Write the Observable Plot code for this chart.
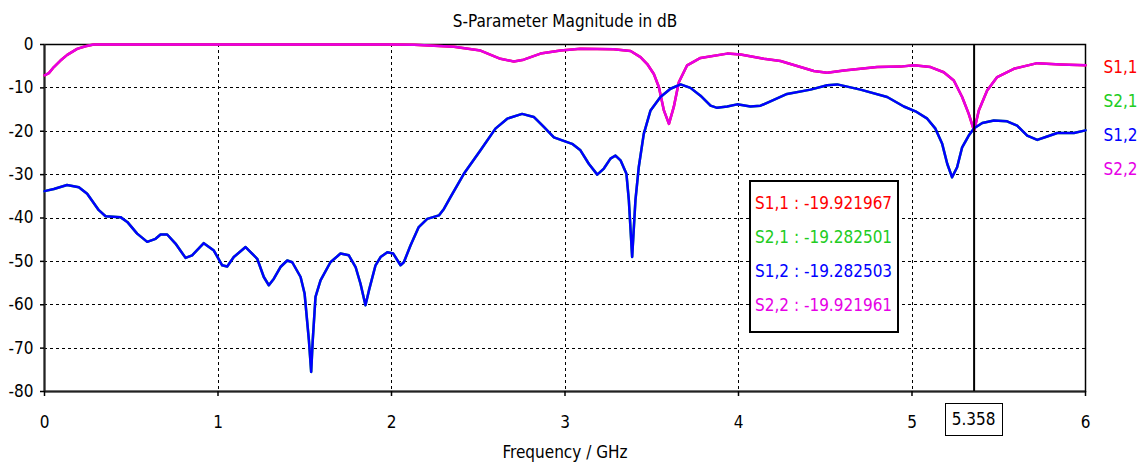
<!DOCTYPE html>
<html>
<head>
<meta charset="utf-8">
<script src="https://cdn.jsdelivr.net/npm/d3@7"></script>
<script src="https://cdn.jsdelivr.net/npm/@observablehq/plot@0.6"></script>
<style>
  html, body { margin: 0; padding: 0; background: #fff; }
  #wrap { position: relative; width: 1143px; height: 465px; overflow: hidden; font-family: "DejaVu Sans Condensed", "DejaVu Sans", sans-serif; }
  #readout { position: absolute; background: #fff; border: 2.5px solid #000; box-sizing: border-box; font-size: 17px; padding: 4px 0 0 4px; }
  #readout div { height: 34px; line-height: 34px; white-space: nowrap; }
  #mlabel { position: absolute; background: #fff; border: 1.5px solid #000; box-sizing: border-box; font-size: 17px; text-align: center; line-height: 30px; }
</style>
</head>
<body>
<div id="wrap"></div>
<script>
// ---- data ----
const chartTitle = "S-Parameter Magnitude in dB";
const xLabel = "Frequency / GHz";
const xTicks = [0, 1, 2, 3, 4, 5, 6];
const yTicks = [-80, -70, -60, -50, -40, -30, -20, -10, 0];
const seriesNames = ["S1,1", "S2,1", "S1,2", "S2,2"];
const seriesColors = ["#ff0000", "#22cc22", "#0000ff", "#e600e6"];
const markerFreq = 5.358;
const markerValues = ["-19.921967", "-19.282501", "-19.282503", "-19.921961"];

// S1,2 (transmission) — S2,1 coincides with it
const freqS12 = [0, 0.054, 0.13, 0.198, 0.246, 0.313, 0.352, 0.438, 0.477, 0.534, 0.592, 0.640, 0.669, 0.707, 0.755, 0.813, 0.851, 0.918, 0.976, 1.024, 1.053, 1.091, 1.159, 1.226, 1.264, 1.293, 1.322, 1.360, 1.399, 1.428, 1.476, 1.499, 1.524, 1.537, 1.546, 1.562, 1.591, 1.648, 1.706, 1.754, 1.793, 1.821, 1.850, 1.870, 1.908, 1.937, 1.976, 2.010, 2.052, 2.071, 2.11, 2.157, 2.206, 2.273, 2.302, 2.340, 2.417, 2.513, 2.599, 2.667, 2.753, 2.820, 2.878, 2.936, 2.984, 3.041, 3.089, 3.137, 3.186, 3.224, 3.262, 3.291, 3.320, 3.354, 3.368, 3.387, 3.406, 3.425, 3.454, 3.493, 3.55, 3.608, 3.666, 3.723, 3.781, 3.839, 3.877, 3.935, 3.992, 4.069, 4.127, 4.184, 4.280, 4.415, 4.511, 4.569, 4.703, 4.857, 4.953, 5.020, 5.088, 5.135, 5.174, 5.203, 5.231, 5.260, 5.289, 5.327, 5.358, 5.405, 5.472, 5.548, 5.606, 5.664, 5.722, 5.779, 5.837, 5.933, 6.0];
const dbS12 = [-33.8, -33.3, -32.4, -32.9, -34.4, -38.2, -39.6, -39.8, -40.9, -43.6, -45.5, -44.8, -43.8, -43.8, -45.9, -49.2, -48.6, -45.8, -47.5, -50.9, -51.2, -49.0, -46.7, -49.4, -53.6, -55.5, -54.0, -51.3, -49.8, -50.2, -53.6, -57.4, -68.2, -75.5, -68.2, -58.2, -54.4, -50.2, -48.2, -48.6, -51.3, -55.1, -60.1, -56.7, -50.9, -49.0, -47.9, -48.2, -50.9, -50.2, -46.3, -42.1, -40.2, -39.4, -37.9, -35.2, -29.8, -24.4, -19.4, -17.1, -16.0, -16.7, -19.0, -21.4, -22.1, -22.9, -24.4, -27.5, -30.0, -28.6, -26.3, -25.6, -26.7, -29.8, -35.9, -49.0, -35.9, -28.3, -20.6, -15.2, -12.1, -10.2, -9.2, -10.0, -11.8, -14.1, -14.6, -14.3, -13.8, -14.3, -14.1, -13.1, -11.4, -10.4, -9.4, -9.2, -10.4, -12.1, -14.3, -15.4, -17.1, -19.4, -22.9, -27.5, -30.6, -28.3, -23.7, -21.0, -19.3, -18.1, -17.5, -17.7, -18.7, -21.0, -22.0, -21.2, -20.4, -20.4, -19.8];

// S2,2 (reflection) — S1,1 coincides with it
const freqS22 = [0, 0.025, 0.054, 0.092, 0.131, 0.188, 0.236, 0.284, 1.0, 2.0, 2.13, 2.36, 2.513, 2.628, 2.705, 2.762, 2.859, 2.974, 3.089, 3.281, 3.378, 3.435, 3.474, 3.512, 3.541, 3.570, 3.599, 3.627, 3.656, 3.704, 3.781, 3.935, 4.012, 4.146, 4.242, 4.357, 4.434, 4.511, 4.607, 4.703, 4.799, 4.934, 5.010, 5.107, 5.183, 5.241, 5.289, 5.327, 5.358, 5.385, 5.433, 5.491, 5.587, 5.722, 5.856, 6.0];
const dbS22 = [-7.1, -6.6, -5.2, -3.7, -2.4, -1.0, -0.4, 0, 0, 0, -0.05, -0.5, -1.4, -3.3, -3.9, -3.5, -2.1, -1.4, -1.0, -1.1, -1.5, -2.9, -4.5, -6.8, -9.8, -15.2, -18.3, -14.4, -8.7, -4.8, -3.1, -2.1, -2.3, -3.3, -3.8, -5.2, -6.1, -6.5, -6.0, -5.6, -5.2, -5.1, -4.8, -5.2, -6.4, -8.3, -12.1, -16.0, -19.9, -15.2, -10.6, -7.5, -5.6, -4.3, -4.6, -4.8];

// ---- build tables ----
const s12 = freqS12.map((f, i) => ({f, db: dbS12[i]}));
const s22 = freqS22.map((f, i) => ({f, db: dbS22[i]}));
const seriesData = [s22, s12, s12, s22]; // S1,1, S2,1, S1,2, S2,2

const font = "DejaVu Sans Condensed";
const lineMarks = [0, 1, 3, 2].map(i =>
  Plot.line(seriesData[i], {x: "f", y: "db", stroke: seriesColors[i], strokeWidth: 2.5, strokeLinejoin: "round"})
);
const legendMarks = seriesNames.map((n, i) =>
  Plot.text([n], {frameAnchor: "top-right", lineAnchor: "middle", textAnchor: "start", dx: 18, dy: 23 + i * 34, fill: seriesColors[i], fontSize: 17})
);
const gridStyle = {stroke: "#000", strokeOpacity: 1, strokeWidth: 1, strokeDasharray: "3,3", shapeRendering: "crispEdges"};

const chart = Plot.plot({
  width: 1143,
  height: 465,
  marginLeft: 44,
  marginRight: 58,
  marginTop: 44,
  marginBottom: 74,
  style: {fontFamily: font, fontSize: "17px", color: "#000", background: "#fff"},
  x: {domain: [0, 6]},
  y: {domain: [-80, 0]},
  marks: [
    Plot.gridX(xTicks.slice(1, -1), gridStyle),
    Plot.gridY(yTicks.slice(1, -1), gridStyle),
    Plot.frame({stroke: "#000", strokeWidth: 1.5}),
    Plot.ruleX([0], {stroke: "#222", strokeWidth: 2}),
    Plot.ruleY([-80], {stroke: "#222", strokeWidth: 2}),
    Plot.axisX({ticks: xTicks, tickFormat: d => String(d), tickSize: 5, tickPadding: 19, label: null, fontSize: 17, strokeWidth: 1.5}),
    Plot.axisY({ticks: yTicks, tickFormat: d => String(d), tickSize: 4, tickPadding: 7, label: null, fontSize: 17, strokeWidth: 1.5}),
    ...lineMarks,
    Plot.ruleX([markerFreq], {stroke: "#000", strokeWidth: 2}),
    Plot.text([chartTitle], {frameAnchor: "top", lineAnchor: "middle", dy: -23, fontSize: 17}),
    Plot.text([xLabel], {frameAnchor: "bottom", lineAnchor: "middle", dy: 61, fontSize: 17}),
    ...legendMarks
  ]
});

const wrap = document.getElementById("wrap");
wrap.appendChild(chart);

// marker readout box
const readout = document.createElement("div");
readout.id = "readout";
readout.style.left = "749px";
readout.style.top = "180px";
readout.style.width = "150px";
readout.style.height = "153px";
seriesNames.forEach((n, i) => {
  const d = document.createElement("div");
  d.textContent = n + " : " + markerValues[i];
  d.style.color = seriesColors[i];
  readout.appendChild(d);
});
wrap.appendChild(readout);

// marker frequency label under the axis
const xs = chart.scale("x");
const mx = xs.apply(markerFreq);
const ml = document.createElement("div");
ml.id = "mlabel";
ml.textContent = String(markerFreq);
ml.style.left = (mx - 29) + "px";
ml.style.top = "403px";
ml.style.width = "58px";
ml.style.height = "33px";
wrap.appendChild(ml);
</script>
</body>
</html>
